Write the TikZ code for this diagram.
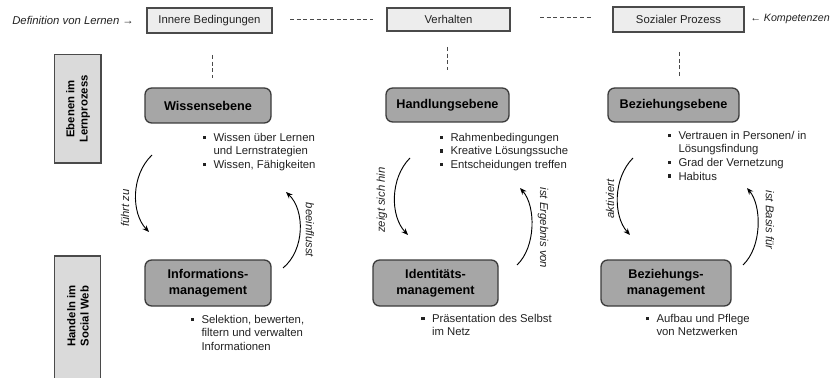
\documentclass[tikz,border=0pt]{standalone}
\usepackage{fontspec}
\setmainfont{Liberation Sans}
\usetikzlibrary{arrows.meta}
\definecolor{lightfill}{HTML}{EDEDED}
\definecolor{sidefill}{HTML}{DADADA}
\definecolor{darkfill}{HTML}{A6A6A6}
\definecolor{edgegray}{HTML}{4A4A4A}
\definecolor{txtgray}{HTML}{222222}
\newcommand{\pxu}{0.75pt}
\newcommand{\bul}{\rule[0.2em]{0.3em}{0.3em}}
\tikzset{
  topbox/.style={draw=edgegray, fill=lightfill, line width=0.8pt, inner sep=0pt,
    font=\fontsize{8.5}{10}\selectfont, text=txtgray},
  levelbox/.style={draw=edgegray!80!black, fill=darkfill, line width=1pt, rounded corners=5pt,
    inner sep=0pt, align=center, font=\bfseries\fontsize{9.5}{12}\selectfont},
  sidebox/.style={draw=edgegray, fill=sidefill, line width=0.8pt},
  sidetext/.style={rotate=90, align=center, inner sep=0pt, font=\bfseries\fontsize{8.5}{10}\selectfont},
  bulletlist/.style={anchor=north west, inner sep=0pt, text=txtgray, font=\fontsize{8.5}{10.2}\selectfont},
  sidelabel/.style={inner sep=0pt, text=txtgray, font=\itshape\fontsize{8.5}{10}\selectfont},
  dashline/.style={draw=edgegray, line width=0.7pt, dash pattern=on 3pt off 2pt},
  curvearrow/.style={draw=black, line width=0.7pt, -{Stealth[length=5pt,width=4pt]}}
}
\begin{document}
\begin{tikzpicture}[x=0.75pt, y=-0.75pt]
\useasboundingbox (0,0) rectangle (832,378);

% top row
\node[sidelabel, anchor=west] (deflern) at (12,20) {Definition von Lernen →};
\node[topbox, minimum width=125*\pxu, minimum height=25*\pxu] (innere) at (209.5,20.5) {Innere Bedingungen};
\node[topbox, minimum width=123*\pxu, minimum height=23*\pxu] (verhalten) at (448.5,19.5) {Verhalten};
\node[topbox, minimum width=131*\pxu, minimum height=25*\pxu] (sozial) at (678.5,19.5) {Sozialer Prozess};
\node[sidelabel, anchor=east, font=\itshape\fontsize{8}{10}\selectfont] (kompet) at (830,19) {← Kompetenzen};

\coordinate (d1a) at (290,19);
\coordinate (d1b) at (373,19);
\coordinate (d2a) at (540,17);
\coordinate (d2b) at (592,17);
\draw[dashline] (d1a) -- (d1b);
\draw[dashline] (d2a) -- (d2b);

\coordinate (v1a) at (212,55);
\coordinate (v1b) at (212,78);
\coordinate (v2a) at (447,47);
\coordinate (v2b) at (447,70);
\coordinate (v3a) at (679,52);
\coordinate (v3b) at (679,78);
\draw[dashline] (v1a) -- (v1b);
\draw[dashline] (v2a) -- (v2b);
\draw[dashline] (v3a) -- (v3b);

% side boxes
\draw[sidebox] (54.5,54.5) rectangle (101,163);
\node[sidetext] (ebenen) at (78,109) {Ebenen im\\Lernprozess};
\draw[sidebox] (54.5,256) rectangle (100.5,382);
\node[sidetext] (handeln) at (78,316) {Handeln im\\Social Web};

% level boxes
\node[levelbox, minimum width=126*\pxu, minimum height=35*\pxu] (wissen) at (208,105.5) {Wissensebene};
\node[levelbox, minimum width=123*\pxu, minimum height=34*\pxu] (handlung) at (447.5,105) {Handlungsebene};
\node[levelbox, minimum width=131*\pxu, minimum height=34*\pxu] (bezieh) at (673.5,105) {Beziehungsebene};

\node[levelbox, minimum width=126*\pxu, minimum height=46*\pxu] (info) at (208,283) {Informations-\\management};
\node[levelbox, minimum width=125*\pxu, minimum height=46*\pxu] (ident) at (435.5,283) {Identitäts-\\management};
\node[levelbox, minimum width=130*\pxu, minimum height=46*\pxu] (bezmgmt) at (666,283) {Beziehungs-\\management};

% bullet lists
\node[bulletlist] (lw) at (202.5,131.5) {\begin{tabular}{@{}l@{\hspace{5.5pt}}l@{}}
\bul & Wissen über Lernen\\ & und Lernstrategien\\ \bul & Wissen, Fähigkeiten\end{tabular}};
\node[bulletlist] (lh) at (439.5,131.5) {\begin{tabular}{@{}l@{\hspace{5.5pt}}l@{}}
\bul & Rahmenbedingungen\\ \bul & Kreative Lösungssuche\\ \bul & Entscheidungen treffen\end{tabular}};
\node[bulletlist] (lb) at (667.5,129.5) {\begin{tabular}{@{}l@{\hspace{5.5pt}}l@{}}
\bul & Vertrauen in Personen/ in\\ & Lösungsfindung\\ \bul & Grad der Vernetzung\\ \bul & Habitus\end{tabular}};
\node[bulletlist] (li) at (190.5,313.5) {\begin{tabular}{@{}l@{\hspace{5.5pt}}l@{}}
\bul & Selektion, bewerten,\\ & filtern und verwalten\\ & Informationen\end{tabular}};
\node[bulletlist] (lid) at (421,312.5) {\begin{tabular}{@{}l@{\hspace{5.5pt}}l@{}}
\bul & Präsentation des Selbst\\ & im Netz\end{tabular}};
\node[bulletlist] (lbm) at (645.5,312.5) {\begin{tabular}{@{}l@{\hspace{5.5pt}}l@{}}
\bul & Aufbau und Pflege\\ & von Netzwerken\end{tabular}};

% curved arrows
\coordinate (a1s) at (152,155); \coordinate (a1e) at (149,232);
\coordinate (a2s) at (283,268); \coordinate (a2e) at (286,192);
\coordinate (a3s) at (410,158); \coordinate (a3e) at (408,235);
\coordinate (a4s) at (517,265); \coordinate (a4e) at (520,188);
\coordinate (a5s) at (633,158); \coordinate (a5e) at (630,235);
\coordinate (a6s) at (743,265); \coordinate (a6e) at (747,188);
\draw[curvearrow] (a1s) .. controls (131,175) and (131,213) .. (a1e);
\draw[curvearrow] (a2s) .. controls (305,250) and (305,210) .. (a2e);
\draw[curvearrow] (a3s) .. controls (390,178) and (390,216) .. (a3e);
\draw[curvearrow] (a4s) .. controls (536,247) and (536,206) .. (a4e);
\draw[curvearrow] (a5s) .. controls (613,178) and (613,216) .. (a5e);
\draw[curvearrow] (a6s) .. controls (762,247) and (762,206) .. (a6e);

% arrow labels
\node[sidelabel, rotate=90] (l1) at (125,208) {führt zu};
\node[sidelabel, rotate=-90] (l2) at (310,230) {beeinflusst};
\node[sidelabel, rotate=90] (l3) at (382,200) {zeigt sich hin};
\node[sidelabel, rotate=-90] (l4) at (543,228) {ist Ergebnis von};
\node[sidelabel, rotate=90] (l5) at (610,199) {aktiviert};
\node[sidelabel, rotate=-90] (l6) at (770,220) {ist Basis für};
\end{tikzpicture}
\end{document}
